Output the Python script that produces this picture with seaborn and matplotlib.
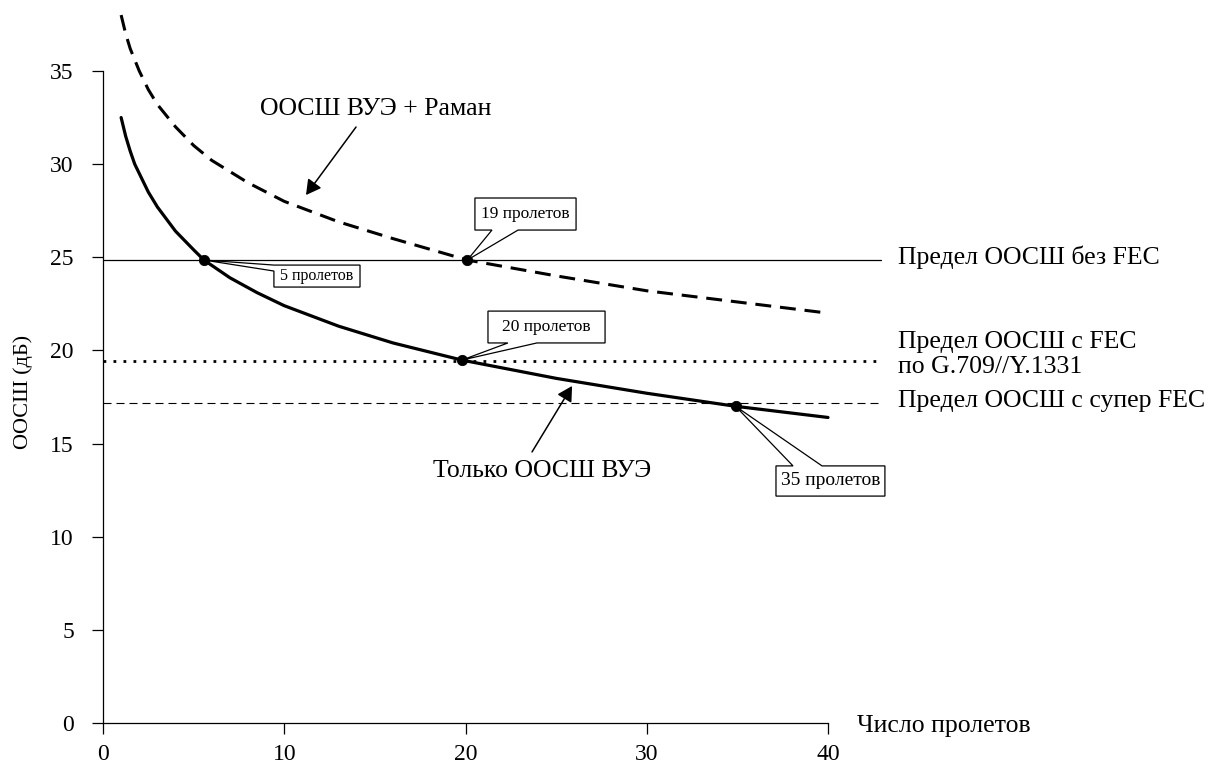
import matplotlib
matplotlib.use("Agg")
import matplotlib.pyplot as plt
from matplotlib.patches import Polygon
import numpy as np
import pandas as pd
import seaborn as sns

# --- data ---------------------------------------------------------------
spans_edfa = [1, 1.25, 1.5, 1.75, 2, 2.5, 3, 4, 5, 5.57, 7, 8.5, 10, 13, 16, 19.8, 25, 30, 34.9, 40]
osnr_edfa = [32.5, 31.5, 30.7, 30.0, 29.5, 28.5, 27.7, 26.4, 25.4, 24.85, 23.9, 23.1, 22.4, 21.3,
             20.4, 19.48, 18.5, 17.7, 17.0, 16.4]

spans_raman = [1, 1.25, 1.5, 1.75, 2, 2.5, 3, 4, 5, 6, 8, 10, 13, 16, 20.1, 25, 30, 35, 40]
osnr_raman = [38.0, 37.0, 36.2, 35.6, 35.0, 34.0, 33.2, 32.0, 31.0, 30.2, 29.0, 28.0, 26.9, 26.0,
              24.85, 24.0, 23.2, 22.6, 22.0]

limit_no_fec = 24.85
limit_fec = 19.45
limit_super_fec = 17.2

marker_x = [5.57, 20.1, 19.8, 34.9]
marker_y = [24.85, 24.85, 19.48, 17.0]
marker_text = ["5 пролетов", "19 пролетов", "20 пролетов", "35 пролетов"]

x_ticks = [0, 10, 20, 30, 40]
y_ticks = [0, 5, 10, 15, 20, 25, 30, 35]

# --- style --------------------------------------------------------------
sns.set_theme(style="white")
plt.rcParams["font.family"] = ["Liberation Serif", "DejaVu Serif"]
plt.rcParams["text.color"] = "black"

fig = plt.figure(figsize=(12.16, 7.64), dpi=100)
ax = fig.add_axes([103 / 1216, 41 / 764, 48 * 18.125 / 1216, 723 / 764])
ax.set_xlim(0, 48)
ax.set_ylim(0, 723 / 18.63)

# limit lines
ax.plot([0, 42.9], [limit_no_fec, limit_no_fec], color="black", lw=0.9)
ax.plot([0, 42.9], [limit_fec, limit_fec], color="black", lw=2.0, linestyle=(0, (1, 2.6)))
ax.plot([0, 42.9], [limit_super_fec, limit_super_fec], color="black", lw=0.8,
        linestyle=(0, (7.2, 4.5)))

# OSNR curves
df_edfa = pd.DataFrame({"spans": spans_edfa, "osnr": osnr_edfa})
df_raman = pd.DataFrame({"spans": spans_raman, "osnr": osnr_raman})
sns.lineplot(data=df_edfa, x="spans", y="osnr", ax=ax, color="black", lw=2.3)
sns.lineplot(data=df_raman, x="spans", y="osnr", ax=ax, color="black", lw=2.2)
ax.lines[-1].set_linestyle((0, (5.2, 2.9)))
ax.lines[-1].set_clip_on(False)

sns.scatterplot(x=marker_x, y=marker_y, ax=ax, color="black", s=55, edgecolor="black",
                zorder=6)

# callout boxes: outline includes a wedge pointing to the marker
callouts = [
    # (outline, text centre, fontsize)
    ([(9.43, 24.58), (14.18, 24.58), (14.18, 23.40), (9.43, 23.40), (9.43, 24.26),
      (marker_x[0], marker_y[0])], (11.8, 23.99), 11.5),
    ([(20.52, 28.18), (26.10, 28.18), (26.10, 26.46), (22.90, 26.46),
      (marker_x[1], marker_y[1]), (21.46, 26.46), (20.52, 26.46)], (23.31, 27.32), 12.5),
    ([(21.24, 22.11), (27.70, 22.11), (27.70, 20.40), (23.94, 20.40),
      (marker_x[2], marker_y[2]), (22.34, 20.40), (21.24, 20.40)], (24.47, 21.25), 12.5),
    ([(37.13, 13.80), (38.07, 13.80), (marker_x[3], marker_y[3]), (39.67, 13.80),
      (43.14, 13.80), (43.14, 12.18), (37.13, 12.18)], (40.13, 12.99), 14),
]
for (outline, centre, fs), label in zip(callouts, marker_text):
    ax.add_patch(Polygon(outline, closed=True, facecolor="white", edgecolor="black",
                         lw=0.9, zorder=5, clip_on=False))
    ax.text(*centre, label, ha="center", va="center", fontsize=fs, zorder=7)

# curve labels with arrows
arrow = dict(arrowstyle="-|>,head_length=0.45,head_width=0.25", color="black", lw=1.1,
             mutation_scale=20, shrinkA=0, shrinkB=0)
ax.text(15.03, 32.64, "ООСШ ВУЭ + Раман", ha="center", va="baseline", fontsize=18.5)
ax.annotate("", xy=(11.2, 28.34), xytext=(13.96, 31.99), arrowprops=arrow)
ax.text(24.25, 13.2, "Только ООСШ ВУЭ", ha="center", va="baseline", fontsize=18.5)
ax.annotate("", xy=(25.88, 18.09), xytext=(23.67, 14.55), arrowprops=arrow)

# limit labels
ax.text(43.85, 24.64, "Предел ООСШ без FEC", ha="left", va="baseline", fontsize=18.5)
ax.text(43.85, 18.79, "Предел ООСШ с FEC\nпо G.709//Y.1331", ha="left", va="baseline",
        fontsize=18.5, linespacing=1.2)
ax.text(43.85, 16.96, "Предел ООСШ с супер FEC", ha="left", va="baseline", fontsize=18.5)

# axes
for side in ("top", "right"):
    ax.spines[side].set_visible(False)
for side in ("left", "bottom"):
    ax.spines[side].set_color("black")
    ax.spines[side].set_linewidth(0.9)
ax.spines["left"].set_bounds(0, 35)
ax.spines["bottom"].set_bounds(0, 40)
ax.set_xticks(x_ticks)
ax.set_yticks(y_ticks)
ax.tick_params(axis="both", direction="out", length=8, width=0.9, color="black",
               labelsize=17, labelcolor="black")
ax.tick_params(axis="x", pad=7, bottom=True)
ax.tick_params(axis="y", pad=13, left=True)
ax.set_xlabel("")
ax.set_ylabel("ООСШ (дБ)", fontsize=16, color="black")
ax.yaxis.set_label_coords(-70 / (48 * 18.125), 17.77 / (723 / 18.63))
ax.text(41.6, -0.48, "Число пролетов", ha="left", va="baseline", fontsize=18.5)

fig.savefig("out.png", dpi=100)
